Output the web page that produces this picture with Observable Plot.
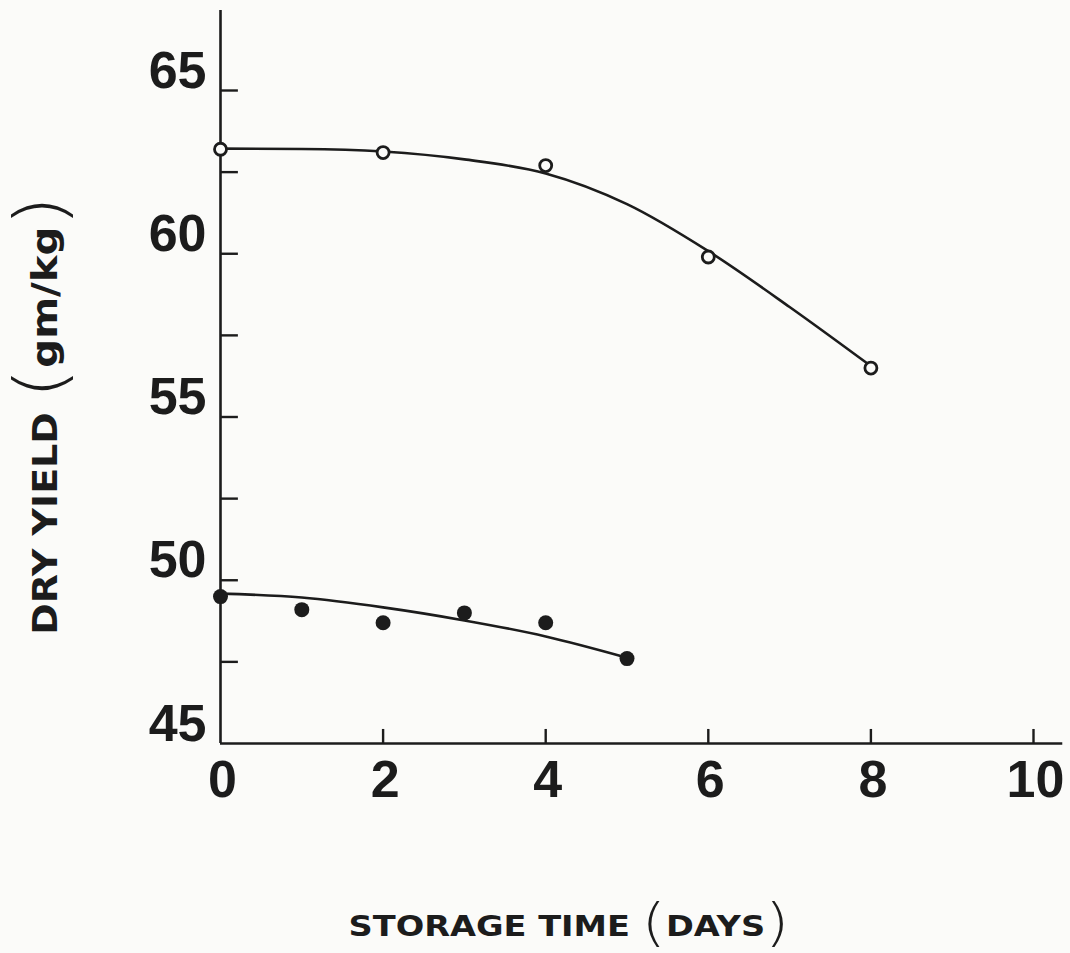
<!DOCTYPE html>
<html>
<head>
<meta charset="utf-8">
<script src="https://cdn.jsdelivr.net/npm/d3@7"></script>
<script src="https://cdn.jsdelivr.net/npm/@observablehq/plot@0.6"></script>
<style>
  html, body { margin: 0; padding: 0; background: #fbfbf9; }
  #chart svg { display: block; }
</style>
</head>
<body>
<div id="chart"></div>
<script>
// Open-circle series (measured points)
const openDays = [0, 2, 4, 6, 8];
const openYield = [63.2, 63.1, 62.7, 59.9, 56.5];
// Filled-circle series (measured points)
const filledDays = [0, 1, 2, 3, 4, 5];
const filledYield = [49.5, 49.1, 48.7, 49.0, 48.7, 47.6];
// Fitted curves
const openFitDays = [0, 1, 2, 3, 4, 5, 6, 7, 8];
const openFitYield = [63.22, 63.21, 63.13, 62.89, 62.46, 61.52, 60.08, 58.37, 56.56];
const filledFitDays = [0, 1, 2, 3, 4, 5];
const filledFitYield = [49.59, 49.47, 49.17, 48.77, 48.28, 47.63];
// Axes
const xTickValues = [0, 2, 4, 6, 8, 10];
const yTickValues = [47.5, 50, 52.5, 55, 57.5, 60, 62.5, 65];
const yLabelValues = [45, 50, 55, 60, 65];
const xLabelText = "STORAGE TIME";
const xLabelUnit = "DAYS";
const yLabelText = "DRY YIELD";
const yLabelUnit = "gm/kg";

const ink = "#1c1c1c";
const paper = "#fbfbf9";

const openPts = openDays.map((d, i) => ({day: d, value: openYield[i]}));
const filledPts = filledDays.map((d, i) => ({day: d, value: filledYield[i]}));
const openFit = openFitDays.map((d, i) => ({day: d, value: openFitYield[i]}));
const filledFit = filledFitDays.map((d, i) => ({day: d, value: filledFitYield[i]}));

const numFont = {fontFamily: "Liberation Sans, Arial, sans-serif", fontWeight: "bold", fontSize: 52, fill: ink};

const plot = Plot.plot({
  width: 1070,
  height: 953,
  marginLeft: 220,
  marginRight: 37,
  marginTop: 90,
  marginBottom: 210,
  x: {domain: [0, 10], axis: null},
  y: {domain: [45, 65], axis: null},
  style: {background: paper, color: ink, overflow: "visible"},
  marks: [
    // axis lines
    Plot.ruleX([0], {y1: 45, y2: 67.45, stroke: ink, strokeWidth: 2.6}),
    Plot.ruleY([45], {x1: 0, x2: 10.36, stroke: ink, strokeWidth: 2.6}),
    // inward ticks
    Plot.ruleY(yTickValues, {x1: 0, x2: 0.22, stroke: ink, strokeWidth: 2.4}),
    Plot.ruleX(xTickValues.filter(d => d > 0), {y1: 45, y2: 45.43, stroke: ink, strokeWidth: 2.4}),
    // tick labels
    Plot.text(yLabelValues, {x: 0, y: d => d, text: d => String(d), textAnchor: "end", lineAnchor: "bottom", dx: -14, dy: -3, ...numFont}),
    Plot.text(xTickValues, {x: d => d, y: 45, text: d => String(d), textAnchor: "middle", lineAnchor: "bottom", dx: 2, dy: 53, ...numFont}),
    // fitted curves
    Plot.line(openFit, {x: "day", y: "value", curve: "monotone-x", stroke: ink, strokeWidth: 2.6}),
    Plot.line(filledFit, {x: "day", y: "value", curve: "monotone-x", stroke: ink, strokeWidth: 2.6}),
    // points
    Plot.dot(openPts, {x: "day", y: "value", r: 6, fill: paper, stroke: ink, strokeWidth: 2.8}),
    Plot.dot(filledPts, {x: "day", y: "value", r: 7.5, fill: ink, stroke: "none"})
  ]
});

const svg = d3.select(plot);
const labelFont = "DejaVu Sans, Verdana, sans-serif";

// x axis title
const gx = svg.append("g").attr("transform", "translate(569,936) scale(1.2,1)");
const tx = gx.append("text")
  .attr("text-anchor", "middle")
  .attr("font-family", labelFont)
  .attr("font-weight", "bold")
  .attr("font-size", 28)
  .attr("fill", ink);
tx.append("tspan").text(xLabelText + " ");
tx.append("tspan").attr("font-size", 52).attr("font-weight", 200).attr("dy", 4).text("(");
tx.append("tspan").attr("dy", -4).text(xLabelUnit);
tx.append("tspan").attr("font-size", 52).attr("font-weight", 200).attr("dy", 4).text(")");

// y axis title
const gy = svg.append("g").attr("transform", "translate(57,415) rotate(-90) scale(1.15,1)");
const ty = gy.append("text")
  .attr("text-anchor", "middle")
  .attr("font-family", labelFont)
  .attr("font-weight", "bold")
  .attr("font-size", 33)
  .attr("fill", ink);
ty.append("tspan").text(yLabelText + " ");
ty.append("tspan").attr("font-size", 70).attr("font-weight", 200).attr("dy", 7).text("(");
ty.append("tspan").attr("font-size", 35).attr("dy", -7).text(yLabelUnit);
ty.append("tspan").attr("font-size", 70).attr("font-weight", 200).attr("dy", 7).text(")");

document.getElementById("chart").appendChild(plot);
</script>
</body>
</html>
